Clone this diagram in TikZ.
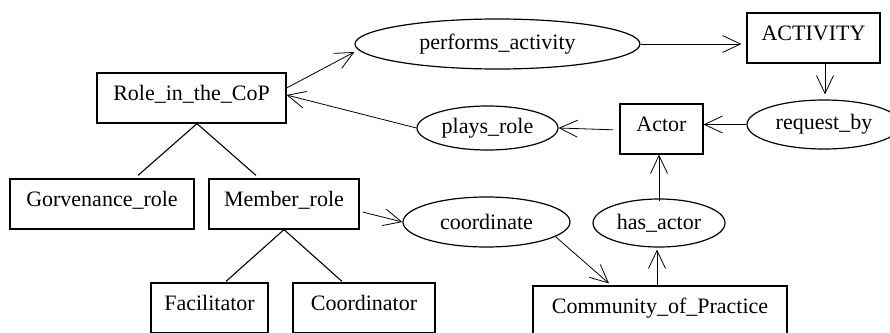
\documentclass[tikz,border=0pt]{standalone}
\usepackage{fontspec}
\setmainfont{Liberation Serif}
\usetikzlibrary{shapes.geometric,arrows.meta}
\tikzset{
  box/.style={draw, line width=1.2pt, rectangle, inner sep=0pt, minimum height=50pt, text height=14pt, text depth=10pt, font=\fontsize{22}{26}\selectfont},
  oval/.style={draw, line width=1.2pt, ellipse, inner sep=0pt, font=\fontsize{22}{26}\selectfont},
  arr/.style={line width=0.8pt, -{Straight Barb[length=18pt,width=17pt,line width=0.8pt]}},
  tree/.style={line width=1.1pt}
}
\begin{document}
\begin{tikzpicture}[x=1pt,y=-1pt]
\useasboundingbox (0,0) rectangle (890,332);
\clip (0,0) rectangle (890,332);
% boxes
\node[box, minimum width=189pt] (role) at (191.5,98) {Role\_in\_the\_CoP};
\node[box, minimum width=133pt] (activity) at (813.5,38) {ACTIVITY};
\node[box, minimum width=83pt] (actor) at (661.5,129) {Actor};
\node[box, minimum width=184pt] (gov) at (102,204) {Gorvenance\_role};
\node[box, minimum width=150pt] (member) at (284,204) {Member\_role};
\node[box, minimum width=117pt] (facil) at (209.5,308) {Facilitator};
\node[box, minimum width=142pt] (coord) at (364,308) {Coordinator};
\node[box, minimum width=254pt] (cop) at (660,311) {Community\_of\_Practice};
% ellipses
\node[oval, minimum width=285pt, minimum height=50pt] (perf) at (497.5,44) {performs\_activity};
\node[oval, minimum width=141pt, minimum height=44pt] (plays) at (487.5,128) {plays\_role};
\node[oval, minimum width=154pt, minimum height=49pt] (request) at (824,124.5) {request\_by};
\node[oval, minimum width=167pt, minimum height=50pt] (coordn) at (486.5,222) {coordinate};
\node[oval, minimum width=132pt, minimum height=48pt] (hasact) at (659,223) {has\_actor};
% tree lines
\draw[tree] ([xshift=5.5pt]role.south) -- ([xshift=36pt,yshift=3pt]gov.north);
\draw[tree] ([xshift=5.5pt]role.south) -- ([xshift=-28pt,yshift=3pt]member.north);
\draw[tree] (member.south) -- ([xshift=16.5pt,yshift=1pt]facil.north);
\draw[tree] (member.south) -- ([xshift=-22pt,yshift=1pt]coord.north);
% arrows
\draw[arr] ([yshift=10pt]role.east) -- ([yshift=-8pt]perf.west);
\draw[arr, shorten >=5pt] (perf.east) -- (perf.east -| activity.west);
\draw[arr, shorten >=5pt] ([xshift=11.5pt]activity.south) -- ([xshift=11.5pt]activity.south |- request.north);
\draw[arr] (request.west) -- (request.west -| actor.east);
\draw[arr, shorten <=6pt] ([yshift=-1pt]actor.west) -- (plays.east);
\draw[arr] (plays.west) -- ([yshift=3pt]role.east);
\draw[arr] ([xshift=3pt,yshift=-8pt]member.east) -- (coordn.west);
\draw[arr] (coordn.-12) -- ([xshift=-51pt,yshift=2pt]cop.north);
\draw[arr, shorten >=2pt] ([xshift=-3pt]cop.north) -- ([xshift=-3pt]cop.north |- hasact.south);
\draw[arr] ([yshift=-3pt]hasact.north) -- (hasact.north |- actor.south);
\end{tikzpicture}
\end{document}
